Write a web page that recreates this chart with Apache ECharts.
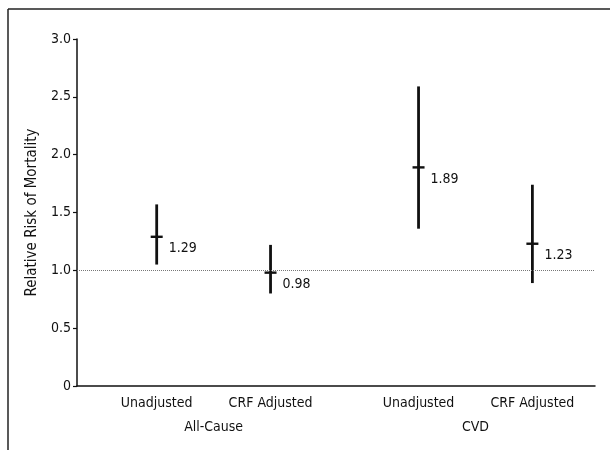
<!DOCTYPE html>
<html>
<head>
<meta charset="utf-8">
<script src="https://cdn.jsdelivr.net/npm/echarts@6/dist/echarts.min.js"></script>
<style>
    html, body {margin: 0; padding: 0; background: #fff;}
    #chart {width: 610px; height: 450px;}
</style>
</head>
<body>
<div id="chart"></div>
<script>
    // data
    const categories = ['Unadjusted', 'CRF Adjusted', 'Unadjusted', 'CRF Adjusted'];
    const xPos = [0.7, 1.7, 3.0, 4.0];
    const groups = ['All-Cause', 'CVD'];
    const groupPos = [1.2, 3.5];
    const estimates = [1.29, 0.98, 1.89, 1.23];
    const lower = [1.05, 0.80, 1.36, 0.89];
    const upper = [1.57, 1.22, 2.59, 1.74];
    const refValue = 1.0;

    const FONT = '"DejaVu Sans Condensed", "Liberation Sans", sans-serif';

    const nearestIndex = (arr, v) => {
        let best = 0;
        arr.forEach((p, i) => {
            if (Math.abs(p - v) < Math.abs(arr[best] - v)) best = i;
        });
        return best;
    };

    let myChart = echarts.init(document.getElementById('chart'));
    myChart.setOption({
        animation: false,
        backgroundColor: '#fff',
        grid: {left: 77, right: 15, top: 39, bottom: 64},
        graphic: [
            // outer frame (top and left edges only)
            {type: 'line', shape: {x1: 8, y1: 9, x2: 610, y2: 9}, style: {stroke: '#222', lineWidth: 1.5}},
            {type: 'line', shape: {x1: 8, y1: 9, x2: 8, y2: 450}, style: {stroke: '#222', lineWidth: 1.5}},
        ],
        xAxis: [
            {
                type: 'value', min: 0, max: 4.55,
                axisLine: {show: true, onZero: false, lineStyle: {color: '#111', width: 1.5}},
                axisTick: {show: false},
                splitLine: {show: false},
                axisLabel: {
                    customValues: xPos,
                    margin: 10,
                    color: '#111', fontFamily: FONT, fontSize: 14,
                    formatter: v => categories[nearestIndex(xPos, v)]
                }
            },
            {
                type: 'value', min: 0, max: 4.55, position: 'bottom', offset: 24,
                axisLine: {show: false},
                axisTick: {show: false},
                splitLine: {show: false},
                axisLabel: {
                    customValues: groupPos,
                    margin: 10,
                    color: '#111', fontFamily: FONT, fontSize: 14,
                    formatter: v => groups[nearestIndex(groupPos, v)]
                }
            }
        ],
        yAxis: {
            type: 'value', min: 0, max: 3, interval: 0.5,
            name: 'Relative Risk of Mortality',
            nameLocation: 'middle',
            nameGap: 36,
            nameTextStyle: {color: '#111', fontFamily: FONT, fontSize: 15},
            axisLine: {show: true, lineStyle: {color: '#111', width: 1.5}},
            axisTick: {show: true, length: 4, lineStyle: {color: '#111', width: 1.2}},
            splitLine: {show: false},
            axisLabel: {
                margin: 6,
                color: '#111', fontFamily: FONT, fontSize: 14,
                formatter: v => v === 0 ? '0' : v.toFixed(1)
            }
        },
        series: [
            {
                type: 'custom',
                xAxisIndex: 0,
                data: xPos.map((x, i) => [x, estimates[i], lower[i], upper[i]]),
                renderItem: (params, api) => {
                    const mid = api.coord([api.value(0), api.value(1)]);
                    const lo = api.coord([api.value(0), api.value(2)]);
                    const hi = api.coord([api.value(0), api.value(3)]);
                    return {
                        type: 'group',
                        children: [
                            {
                                type: 'line',
                                shape: {x1: lo[0], y1: lo[1], x2: hi[0], y2: hi[1]},
                                style: {stroke: '#111', lineWidth: 2.8}
                            },
                            {
                                type: 'line',
                                shape: {x1: mid[0] - 6, y1: mid[1], x2: mid[0] + 6, y2: mid[1]},
                                style: {stroke: '#111', lineWidth: 2.4}
                            },
                            {
                                type: 'text',
                                x: mid[0] + 12, y: mid[1] + 12,
                                style: {
                                    text: api.value(1).toFixed(2),
                                    fill: '#111', font: '14px ' + FONT,
                                    verticalAlign: 'middle', align: 'left'
                                }
                            }
                        ]
                    };
                },
                markLine: {
                    silent: true,
                    symbol: 'none',
                    label: {show: false},
                    lineStyle: {type: 'dotted', color: '#777', width: 1},
                    data: [{yAxis: refValue}]
                }
            }
        ]
    });
</script>
</body>
</html>
